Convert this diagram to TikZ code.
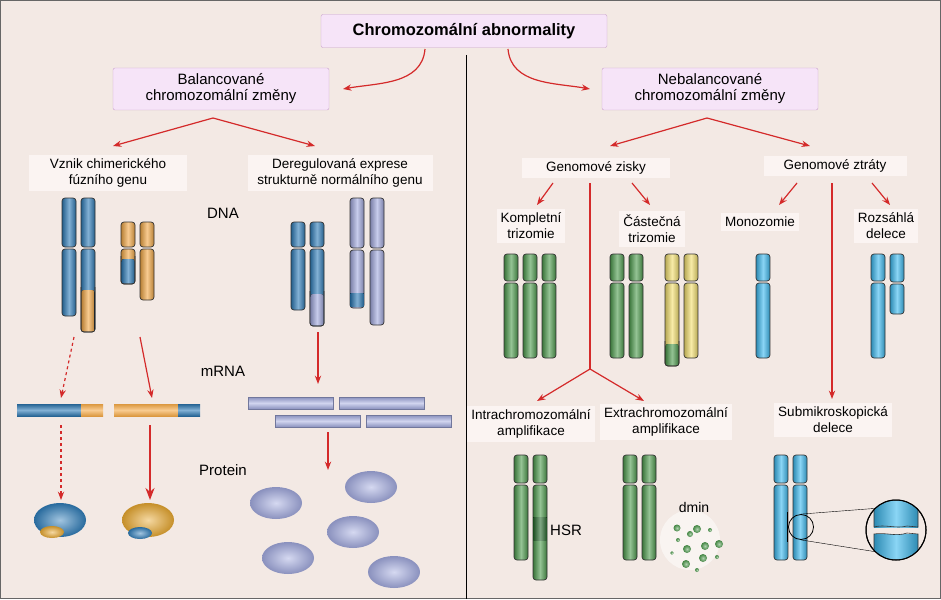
\documentclass[tikz,border=0pt]{standalone}
\usepackage{fontspec}
\setmainfont{Liberation Sans}
\usetikzlibrary{arrows.meta,positioning,calc}
\definecolor{bg}{HTML}{F3E9E4}
\definecolor{boxfill}{HTML}{F6E4F8}
\definecolor{boxline}{HTML}{C9A2CC}
\definecolor{lblfill}{HTML}{FBF4F2}
\definecolor{arr}{HTML}{D42A2A}
\definecolor{cblue}{HTML}{2F7DB9}
\definecolor{corange}{HTML}{F4A947}
\definecolor{cgold}{HTML}{E8A830}
\definecolor{clav}{HTML}{A2AADF}
\definecolor{cgreen}{HTML}{4E9C4E}
\definecolor{cdark}{HTML}{2C6E32}
\definecolor{cyellow}{HTML}{F3DF6E}
\definecolor{ccyan}{HTML}{3CB9EF}
\tikzset{
    every picture/.style = {
        > = Stealth,
        x = 1pt, y = -1pt
    },
    main/.style = {
        draw = boxline, fill = boxfill, rounded corners = 2pt,
        minimum width = 216pt, minimum height = 42pt,
        align = center, font = \fontsize{15}{16}\selectfont
    },
    label/.style = {
        fill = lblfill, inner sep = 4pt,
        align = center, font = \fontsize{13.5}{16}\selectfont
    },
    tag/.style = {
        align = center, font = \fontsize{15}{16}\selectfont
    },
    link/.style = {
        ->, draw = arr, line width = 1.2pt
    },
    chrom/.style = {
        draw = black!80, line width = 0.7pt, rounded corners = 3pt
    },
    blob/.style = {
        inner color = #1!45!white, outer color = #1!85!black
    }
}
% chromosome: x, top, centromere, bottom, colour
\newcommand{\chr}[5]{%
    \draw[chrom, left color = #5!75!black, right color = #5!75!black, middle color = #5!60!white]
        (#1, #2) rectangle ({#1 + 14}, {#3 - 1});
    \draw[chrom, left color = #5!75!black, right color = #5!75!black, middle color = #5!60!white]
        (#1, {#3 + 1}) rectangle ({#1 + 14}, #4);%
}
% band inside a chromosome: x, from, to, colour
\newcommand{\band}[4]{%
    \fill[left color = #4!75!black, right color = #4!75!black, middle color = #4!60!white, rounded corners = 2.5pt]
        ({#1 + 0.4}, #2) rectangle ({#1 + 13.6}, {#3 - 0.4});
    \draw[line width = 0.7pt, black!80, rounded corners = 3pt] (#1, {#2 - 3}) -- (#1, #3) -- ({#1 + 14}, #3) -- ({#1 + 14}, {#2 - 3});%
}
\newcommand{\midband}[4]{%
    \fill[left color = #4!75!black, right color = #4!75!black, middle color = #4!60!white]
        ({#1 + 0.4}, #2) rectangle ({#1 + 13.6}, #3);%
}
\begin{document}
\begin{tikzpicture}
    \useasboundingbox (0, 0) rectangle (941, 599);
    \fill[bg] (0, 0) rectangle (941, 599);
    \draw[black!60, line width = 1pt] (0.5, 0.5) rectangle (940.5, 598.5);
    \draw[black, line width = 0.6pt] (466, 55) -- (466, 599);

    % headings
    \node[main, minimum width = 286pt, minimum height = 33pt, font = \fontsize{16.5}{18}\selectfont\bfseries] (top) at (464, 31) {Chromozomální abnormality};
    \node[main] (bal) at (221, 89) {Balancované\\chromozomální změny};
    \node[main] (nebal) at (710, 89) {Nebalancované\\chromozomální změny};
    \draw[link] (425, 49) to[out = -95, in = 10] (343, 89);
    \draw[link] (508, 49) to[out = -85, in = 170] (590, 89);

    % left side labels
    \node[label, minimum width = 158pt] (fuse) at (108, 173) {Vznik chimerického\\fúzního genu};
    \node[label, minimum width = 185pt] (dereg) at (340, 173) {Deregulovaná exprese\\strukturně normálního genu};
    \coordinate (balfork) at (213, 118);
    \draw[link] (balfork) -- (113, 146);
    \draw[link] (balfork) -- (315, 146);

    \node[tag] (dna) at (223, 213) {DNA};
    \node[tag] (mrna) at (223, 371) {mRNA};
    \node[tag] (prot) at (223, 470) {Protein};

    % chimeric gene
    \chr{62}{198}{248}{316}{cblue}
    \chr{81}{198}{248}{332}{cblue}
    \band{81}{290}{332}{corange}
    \chr{121}{222}{248}{284}{corange}
    \band{121}{259}{284}{cblue}
    \chr{140}{222}{248}{300}{corange}
    \draw[link, dashed] (74, 337) -- (61, 398);
    \draw[link] (140, 337) -- (152, 398);
    \fill[top color = corange!90!black, bottom color = corange!90!black, middle color = corange!60!white] (114, 404) rectangle (178, 416);
    \fill[top color = cblue!80!black, bottom color = cblue!80!black, middle color = cblue!60!white] (178, 404) rectangle (200, 416);
    \fill[top color = cblue!80!black, bottom color = cblue!80!black, middle color = cblue!60!white] (17, 404) rectangle (81, 416);
    \fill[top color = corange!90!black, bottom color = corange!90!black, middle color = corange!60!white] (81, 404) rectangle (103, 416);
    \draw[link, dashed] (61, 425) -- (61, 500);
    \draw[link, line width = 2pt] (150, 425) -- (150, 500);
    \shade[blob = cblue] (60, 520) ellipse (26 and 17);
    \shade[blob = cgold] (52, 532) ellipse (12 and 6);
    \shade[blob = cgold] (148, 520) ellipse (26 and 17);
    \shade[blob = cblue] (140, 533) ellipse (12 and 6);

    % deregulated gene
    \chr{291}{222}{248}{310}{cblue}
    \chr{310}{222}{248}{326}{cblue}
    \band{310}{294}{326}{clav}
    \chr{350}{198}{249}{308}{clav}
    \midband{350}{293}{306}{cblue}
    \chr{370}{198}{249}{325}{clav}
    \draw[link] (318, 332) -- (318, 384);
    \foreach \bx/\by in {248/397, 339/397, 275/415, 366/415}
        {\fill[draw = clav!70!black, line width = 0.4pt, top color = clav!85!black, bottom color = clav!85!black, middle color = clav!50!white] (\bx, \by) rectangle ++(85, 12);}
    \draw[link] (328, 432) -- (328, 470);
    \foreach \ex/\ey in {276/503, 371/487, 353/532, 288/558, 394/572}
        {\shade[blob = clav] (\ex, \ey) ellipse (26 and 16);}

    % right side labels
    \node[label, minimum width = 148pt] (gain) at (596, 168) {Genomové zisky};
    \node[label, minimum width = 143pt] (loss) at (835, 166) {Genomové ztráty};
    \coordinate (nebalfork) at (707, 118);
    \draw[link] (nebalfork) -- (610, 146);
    \draw[link] (nebalfork) -- (810, 146);

    \node[label] (full) at (531, 226) {Kompletní\\trizomie};
    \node[label] (part) at (652, 229) {Částečná\\trizomie};
    \node[label] (mono) at (760, 222) {Monozomie};
    \node[label] (large) at (886, 226) {Rozsáhlá\\delece};
    \node[label] (intra) at (531, 424) {Intrachromozomální\\amplifikace};
    \node[label] (extra) at (666, 422) {Extrachromozomální\\amplifikace};
    \node[label] (submic) at (833, 420) {Submikroskopická\\delece};

    \draw[link] (553, 183) -- (537, 205);
    \draw[link] (632, 183) -- (650, 205);
    \coordinate (ampfork) at (590, 369);
    \draw[arr, line width = 1.2pt] (590, 183) -- (ampfork);
    \draw[link] (ampfork) -- (537, 401);
    \draw[link] (ampfork) -- (644, 401);
    \draw[link] (797, 183) -- (779, 205);
    \draw[link] (872, 183) -- (890, 205);
    \draw[link] (832, 183) -- (832, 399);

    % gains and losses
    \foreach \cx in {504, 523, 542}
        {\chr{\cx}{254}{282}{358}{cgreen}}
    \chr{610}{254}{282}{358}{cgreen}
    \chr{629}{254}{282}{358}{cgreen}
    \chr{665}{254}{282}{366}{cyellow}
    \band{665}{344}{366}{cgreen}
    \chr{684}{254}{282}{358}{cyellow}
    \chr{756}{254}{282}{358}{ccyan}
    \chr{871}{254}{282}{358}{ccyan}
    \chr{890}{254}{283}{314}{ccyan}

    % amplifications
    \chr{514}{455}{484}{560}{cgreen}
    \chr{533}{455}{484}{580}{cgreen}
    \midband{533}{517}{540}{cdark}
    \node[tag] (hsr) at (566, 530) {HSR};
    \chr{623}{455}{484}{560}{cgreen}
    \chr{642}{455}{484}{560}{cgreen}
    \fill[white, opacity = 0.5] (690, 540) circle (30);
    \node[tag, font = \fontsize{14}{16}\selectfont] (dmin) at (694, 507) {dmin};
    \foreach \dx/\dy/\dr in {697/529/4, 677/528/3.5, 690/534/3, 710/530/2, 678/540/2, 705/546/4, 719/544/4, 687/549/4, 672/553/1.8, 717/557/2, 703/558/4, 686/564/4, 697/570/2}
        {\shade[blob = cgreen] (\dx, \dy) circle (\dr);}

    % submicroscopic deletion
    \chr{774}{455}{484}{560}{ccyan}
    \chr{793}{455}{484}{560}{ccyan}
    \draw[black, line width = 1pt] (787, 512) -- (787, 542);
    \node[draw, circle, line width = 0.8pt, minimum size = 25pt, inner sep = 0pt] (lens) at (801, 527) {};
    \node[draw, circle, line width = 1pt, minimum size = 60pt, inner sep = 0pt, fill = bg] (zoomc) at (896, 530) {};
    \draw[black, line width = 0.4pt] (lens.north) -- (zoomc.north west);
    \draw[black, line width = 0.4pt] (lens.south) -- (zoomc.south west);
    \begin{scope}
        \clip (896, 530) circle (29.5);
        \fill[left color = ccyan!75!black, right color = ccyan!75!black, middle color = ccyan!60!white] (874, 490) rectangle (918, 527);
        \fill[left color = ccyan!75!black, right color = ccyan!75!black, middle color = ccyan!60!white] (874, 534) rectangle (918, 570);
        \draw[black!80, line width = 0.6pt] (874, 490) -- (874, 527) .. controls (885, 524) and (896, 529) .. (907, 526) -- (918, 527) -- (918, 490);
        \draw[black!80, line width = 0.6pt] (874, 570) -- (874, 534) .. controls (885, 532) and (896, 537) .. (907, 533) -- (918, 534) -- (918, 570);
    \end{scope}
    \draw[line width = 1pt] (896, 530) circle (30);
\end{tikzpicture}
\end{document}
